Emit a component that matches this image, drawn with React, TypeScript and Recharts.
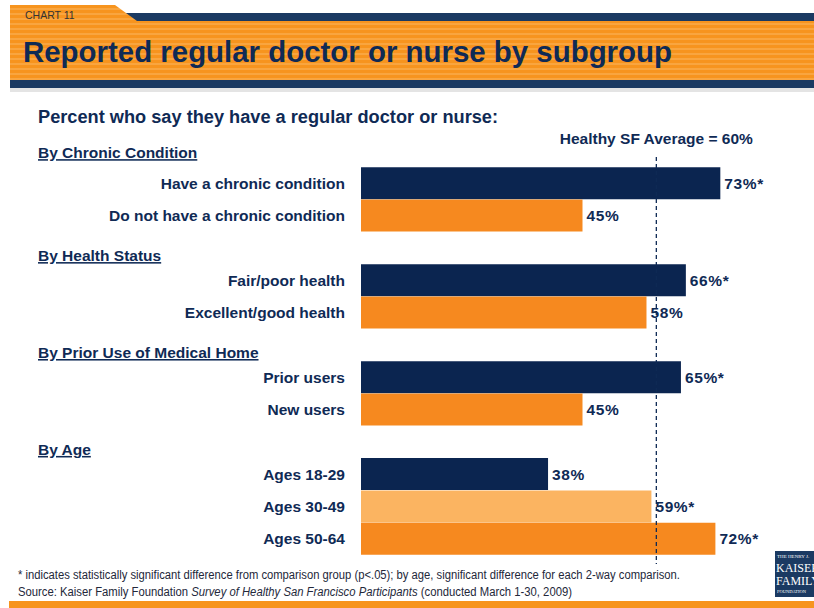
import { Bar, BarChart, Cell, LabelList, ReferenceLine, XAxis, YAxis } from "recharts";

// rows of the chart, headings included (they take an empty row of their own)
const categories = [
  "By Chronic Condition",
  "Have a chronic condition",
  "Do not have a chronic condition",
  "By Health Status",
  "Fair/poor health",
  "Excellent/good health",
  "By Prior Use of Medical Home",
  "Prior users",
  "New users",
  "By Age",
  "Ages 18-29",
  "Ages 30-49",
  "Ages 50-64",
];
const values = [null, 73, 45, null, 66, 58, null, 65, 45, null, 38, 59, 72];
const significant = [false, true, false, false, true, false, false, true, false, false, false, true, true];
const rowTypes = [
  "heading", "dark", "orange",
  "heading", "dark", "orange",
  "heading", "dark", "orange",
  "heading", "dark", "light", "orange",
];
const average = 60;

const NAVY = "#0b2550";
const BAND_NAVY = "#1b3a62";
const ORANGE = "#f6891f";
const LIGHT_ORANGE = "#fbb461";
const TEXT = "#0f2a55";
const FONT = "'Liberation Sans', Arial, sans-serif";

const fills: Record<string, string> = { dark: NAVY, orange: ORANGE, light: LIGHT_ORANGE };

const rows = categories.map((label, i) => ({
  label,
  value: values[i],
  type: rowTypes[i],
  valueText: values[i] == null ? null : `${values[i]}%${significant[i] ? "*" : ""}`,
}));

function CategoryTick(props: any) {
  const { y, payload } = props;
  const i = categories.indexOf(payload.value);
  if (rowTypes[i] === "heading") {
    return (
      <text x={38} y={y + (i === 0 ? 7 : 13)} fontSize={15.5} fontWeight="bold" fill={TEXT}
        fontFamily={FONT} textDecoration="underline">
        {payload.value}
      </text>
    );
  }
  return (
    <text x={345} y={y + 5.5} textAnchor="end" fontSize={15.5} fontWeight="bold" fill={TEXT} fontFamily={FONT}>
      {payload.value}
    </text>
  );
}

function ValueLabel(props: any) {
  const { x, y, width, height, value } = props;
  if (value == null) return null;
  return (
    <text x={x + width + 4} y={y + height / 2 + 5.5} fontSize={15.5} fontWeight="bold" fill={TEXT}
      fontFamily={FONT} letterSpacing={0.6}>
      {value}
    </text>
  );
}

function AverageLine(props: any) {
  const { x1, y1, y2 } = props;
  const top = Math.min(y1, y2);
  const bottom = Math.max(y1, y2);
  return (
    <g>
      <text x={x1} y={top + 8.5} textAnchor="middle" fontSize={15.5} fontWeight="bold" fill={TEXT} fontFamily={FONT}>
        Healthy SF Average = {average}%
      </text>
      <line x1={x1} x2={x1} y1={top + 22} y2={bottom + 9} stroke={TEXT} strokeWidth={1.3} strokeDasharray="4 3" />
    </g>
  );
}

function Backdrop() {
  return (
    <svg width={814} height={608} style={{ position: "absolute", left: 0, top: 0 }}>
      <defs>
        <pattern id="stripes" patternUnits="userSpaceOnUse" width={10} height={5}>
          <rect width={10} height={5} fill="#f7941e" />
          <rect y={3} width={10} height={2} fill="#f9a53f" />
        </pattern>
        <clipPath id="logoClip">
          <rect x={775} y={551} width={39} height={46} />
        </clipPath>
      </defs>
      <rect x={120} y={13} width={694} height={8} fill={BAND_NAVY} />
      <polygon points="10,5 115,5 137,21 10,21" fill="url(#stripes)" />
      <rect x={10} y={21} width={804} height={59} fill="url(#stripes)" />
      <rect x={10} y={80} width={804} height={8} fill={BAND_NAVY} />
      <rect x={10} y={88} width={804} height={4} fill="#e4e4e4" />
      <text x={25} y={19} fontSize={10.5} fill="#333" fontFamily={FONT}>CHART 11</text>
      <text x={23} y={62} fontSize={29.4} fontWeight="bold" fill={TEXT} fontFamily={FONT}
        textLength={649} lengthAdjust="spacingAndGlyphs">
        Reported regular doctor or nurse by subgroup
      </text>
      <text x={38} y={123} fontSize={17.5} fontWeight="bold" fill={TEXT} fontFamily={FONT}
        textLength={460} lengthAdjust="spacingAndGlyphs">
        Percent who say they have a regular doctor or nurse:
      </text>
      <text x={18} y={579} fontSize={12} fill="#23283a" fontFamily={FONT}
        textLength={662} lengthAdjust="spacingAndGlyphs">
        * indicates statistically significant difference from comparison group (p&lt;.05); by age, significant difference for each 2-way comparison.
      </text>
      <text x={18} y={596} fontSize={12} fill="#23283a" fontFamily={FONT}
        textLength={554} lengthAdjust="spacingAndGlyphs">
        Source: Kaiser Family Foundation <tspan fontStyle="italic">Survey of Healthy San Francisco Participants</tspan> (conducted March 1-30, 2009)
      </text>
      <rect x={9} y={601} width={805} height={7} fill="#f7941e" />
      <rect x={775} y={551} width={39} height={46} fill={BAND_NAVY} />
      <g fill="#ffffff" fontFamily="'Liberation Serif', 'DejaVu Serif', serif" clipPath="url(#logoClip)">
        <text x={777} y={558} fontSize={5}>THE HENRY J.</text>
        <text x={776} y={572} fontSize={12}>KAISER</text>
        <text x={776} y={585} fontSize={12}>FAMILY</text>
        <text x={777} y={593} fontSize={4.5}>FOUNDATION</text>
      </g>
    </svg>
  );
}

export default function App() {
  return (
    <div style={{ position: "absolute", left: 0, top: 0, width: 814, height: 608, overflow: "hidden", background: "#fff" }}>
      <Backdrop />
      <div style={{ position: "absolute", left: 0, top: 0 }}>
        <BarChart
          width={814}
          height={608}
          data={rows}
          layout="vertical"
          barCategoryGap={0}
          margin={{ top: 135, right: 10, bottom: 53, left: 0 }}
        >
          <XAxis type="number" domain={[0, 90]} hide />
          <YAxis
            type="category"
            dataKey="label"
            width={361}
            axisLine={false}
            tickLine={false}
            interval={0}
            tick={<CategoryTick />}
          />
          <Bar dataKey="value" isAnimationActive={false}>
            {rows.map((r) => (
              <Cell key={r.label} fill={fills[r.type] ?? "transparent"} />
            ))}
            <LabelList dataKey="valueText" content={<ValueLabel />} />
          </Bar>
          <ReferenceLine x={average} ifOverflow="visible" shape={<AverageLine />} />
        </BarChart>
      </div>
    </div>
  );
}
